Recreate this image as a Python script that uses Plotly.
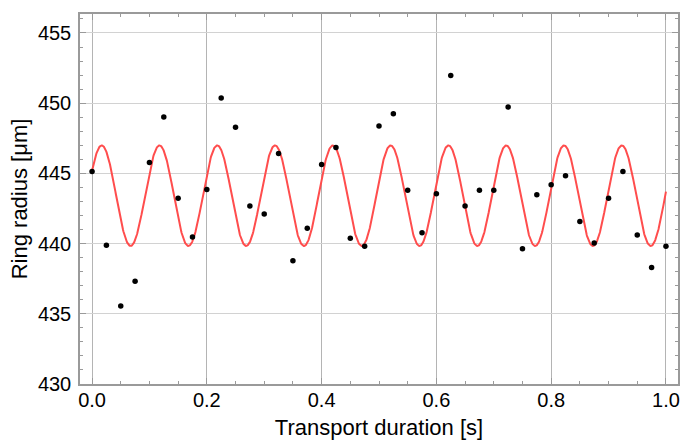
import numpy as np
import plotly.graph_objects as go

# Measured ring radius vs transport duration
duration_s = [0.000, 0.025, 0.050, 0.075, 0.100, 0.125, 0.150, 0.175, 0.200, 0.225,
              0.250, 0.275, 0.300, 0.325, 0.350, 0.375, 0.400, 0.425, 0.450, 0.475,
              0.500, 0.525, 0.550, 0.575, 0.600, 0.625, 0.650, 0.675, 0.700, 0.725,
              0.750, 0.775, 0.800, 0.825, 0.850, 0.875, 0.900, 0.925, 0.950, 0.975,
              1.000]
radius_um = [445.14, 439.89, 435.55, 437.31, 445.78, 449.01, 443.22, 440.46, 443.86, 450.36,
             448.28, 442.67, 442.10, 446.42, 438.77, 441.10, 445.64, 446.85, 440.38, 439.81,
             448.37, 449.25, 443.79, 440.78, 443.55, 451.97, 442.67, 443.79, 443.79, 449.72,
             439.64, 443.48, 444.19, 444.83, 441.57, 440.05, 443.22, 445.14, 440.62, 438.29,
             439.81]

# Sinusoidal fit parameters: r(t) = offset + amplitude * sin(2*pi*freq*t + phase)
fit_offset = 443.41
fit_amplitude = 3.58
fit_freq_hz = 9.93
fit_phase = 0.522

t_fit = np.linspace(0.0, 1.0, 1500)
r_fit = fit_offset + fit_amplitude * np.sin(2 * np.pi * fit_freq_hz * t_fit + fit_phase)

x_ticks = [0.0, 0.2, 0.4, 0.6, 0.8, 1.0]
x_ticklabels = ["0.0", "0.2", "0.4", "0.6", "0.8", "1.0"]
y_ticks = [430, 435, 440, 445, 450, 455]

FONT = "Liberation Sans, Arial, sans-serif"

fig = go.Figure()
fig.add_trace(go.Scatter(
    x=t_fit, y=r_fit, mode="lines",
    line=dict(color="#ff4d4d", width=2),
    hoverinfo="skip", showlegend=False,
))
fig.add_trace(go.Scatter(
    x=duration_s, y=radius_um, mode="markers",
    marker=dict(color="black", size=5.5),
    showlegend=False,
))

axis_common = dict(
    showline=True, linecolor="#9a9a9a", linewidth=1.5, mirror="allticks",
    ticks="inside", ticklen=6, tickcolor="#9a9a9a", tickwidth=1,
    showgrid=True, gridwidth=1,
    zeroline=False,
    tickfont=dict(family=FONT, size=20, color="black"),
    title_font=dict(family=FONT, size=22, color="black"),
)

fig.update_xaxes(
    range=[-0.021, 1.021], tickvals=x_ticks, ticktext=x_ticklabels,
    minor=dict(ticks="inside", dtick=0.05, tick0=0, ticklen=3, tickcolor="#9a9a9a", showgrid=False),
    title_text="Transport duration [s]", title_standoff=10,
    gridcolor="#b4b4b4", ticklabelstandoff=-3,
    **axis_common,
)
fig.update_yaxes(
    range=[430, 456.35], tickvals=y_ticks,
    minor=dict(ticks="inside", dtick=1, tick0=430, ticklen=3, tickcolor="#9a9a9a", showgrid=False),
    title_text="Ring radius [μm]", title_standoff=4,
    gridcolor="#d2d2d2", ticklabelstandoff=3,
    **axis_common,
)

fig.update_layout(
    width=681, height=444,
    margin=dict(l=80, r=1, t=14, b=60),
    plot_bgcolor="white", paper_bgcolor="white",
    font=dict(family=FONT),
)

fig.write_html("out.html")
